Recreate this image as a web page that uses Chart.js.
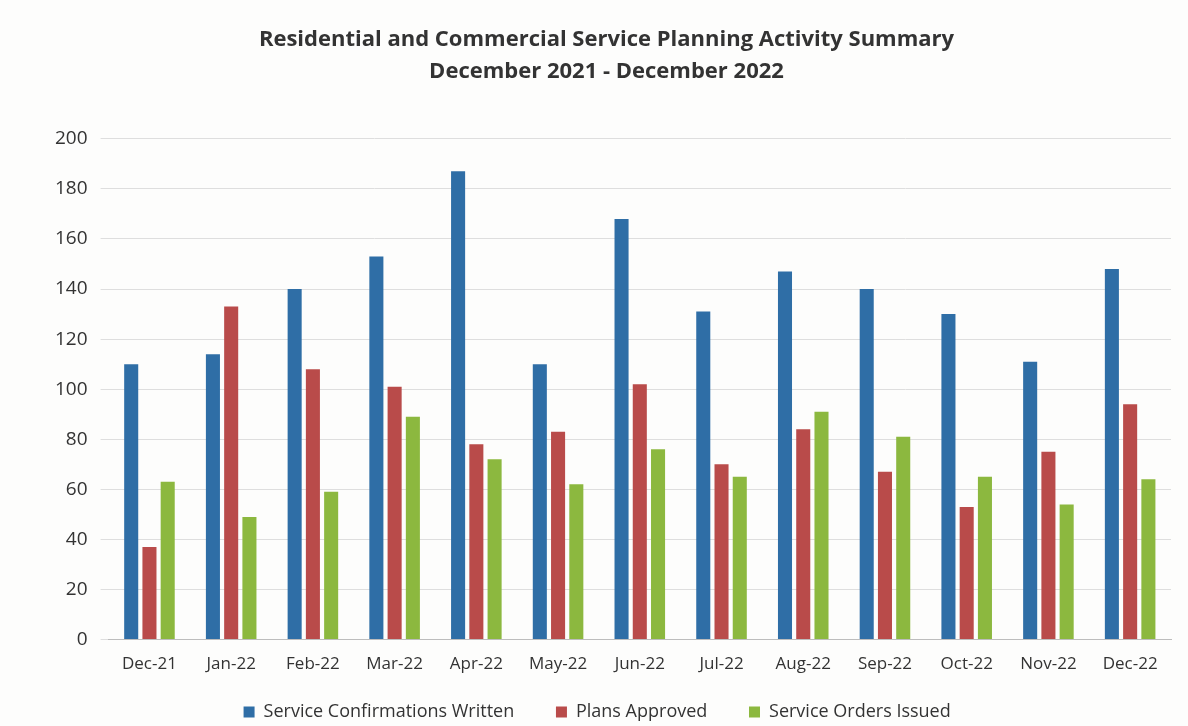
<!DOCTYPE html>
<html>
<head>
<meta charset="utf-8">
<script src="https://cdn.jsdelivr.net/npm/chart.js@4/dist/chart.umd.min.js"></script>
<style>
  html, body { margin: 0; padding: 0; background: #fdfdfc; }
  #wrap { width: 1188px; height: 726px; }
</style>
</head>
<body>
<div id="wrap"><canvas id="activityChart" width="1188" height="726"></canvas></div>
<script>
const months = ['Dec-21', 'Jan-22', 'Feb-22', 'Mar-22', 'Apr-22', 'May-22', 'Jun-22',
                'Jul-22', 'Aug-22', 'Sep-22', 'Oct-22', 'Nov-22', 'Dec-22'];
const confirmationsWritten = [110, 114, 140, 153, 187, 110, 168, 131, 147, 140, 130, 111, 148];
const plansApproved = [37, 133, 108, 101, 78, 83, 102, 70, 84, 67, 53, 75, 94];
const ordersIssued = [63, 49, 59, 89, 72, 62, 76, 65, 91, 81, 65, 54, 64];
const yTicks = [0, 20, 40, 60, 80, 100, 120, 140, 160, 180, 200];

const fontFamily = "'Open Sans', 'Lato', sans-serif";

const ctx = document.getElementById('activityChart').getContext('2d');
new Chart(ctx, {
    type: 'bar',
    data: {
        labels: months,
        datasets: [
            { label: 'Service Confirmations Written', data: confirmationsWritten, backgroundColor: '#2f6ea6' },
            { label: 'Plans Approved', data: plansApproved, backgroundColor: '#b94b4a' },
            { label: 'Service Orders Issued', data: ordersIssued, backgroundColor: '#8cb83f' }
        ]
    },
    options: {
        responsive: false,
        animation: false,
        layout: { padding: { left: 42, right: 17, top: 24, bottom: -5 } },
        datasets: {
            bar: { categoryPercentage: 0.67, barPercentage: 0.77 }
        },
        plugins: {
            title: {
                display: true,
                text: ['Residential and Commercial Service Planning Activity Summary',
                       'December 2021 - December 2022'],
                color: '#333',
                font: { family: fontFamily, size: 22, weight: 'bold', lineHeight: 1.45 },
                padding: { top: 0, bottom: 51 }
            },
            legend: {
                position: 'bottom',
                labels: {
                    color: '#333',
                    font: { family: fontFamily, size: 18 },
                    boxWidth: 11,
                    boxHeight: 11,
                    padding: 23,
                    // wider gaps between the entries, like the original legend
                    generateLabels: chart => {
                        const items = Chart.defaults.plugins.legend.labels.generateLabels(chart);
                        items.forEach(item => { item.text = item.text + '    '; });
                        return items;
                    }
                }
            },
            tooltip: { enabled: false }
        },
        scales: {
            x: {
                grid: { display: false },
                border: { color: '#bdbdbd' },
                ticks: { color: '#333', font: { family: fontFamily, size: 17 }, padding: 6 }
            },
            y: {
                min: 0,
                max: 200,
                afterBuildTicks: axis => { axis.ticks = yTicks.map(v => ({ value: v })); },
                grid: { color: '#dedede' },
                border: { display: false },
                ticks: { color: '#333', font: { family: fontFamily, size: 19 }, padding: 13 }
            }
        }
    }
});
</script>
</body>
</html>
